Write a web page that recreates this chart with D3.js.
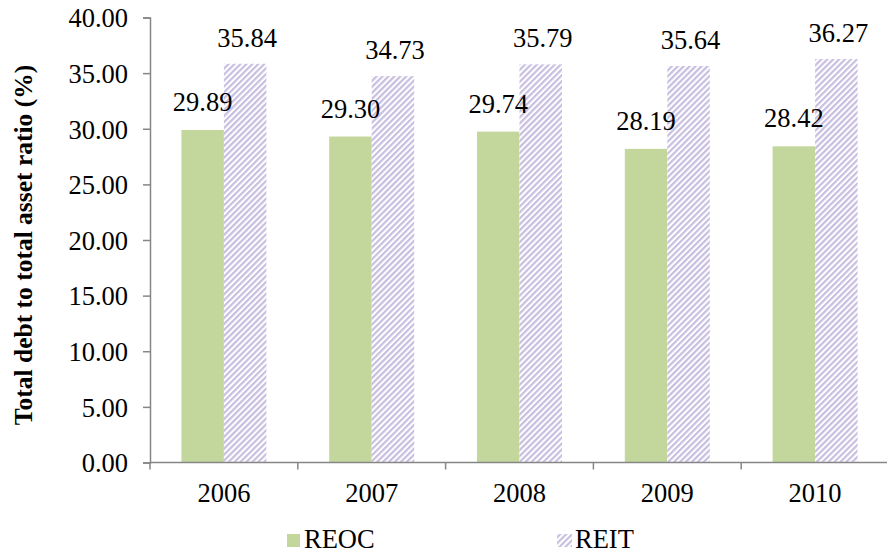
<!DOCTYPE html>
<html><head><meta charset="utf-8">
<script src="https://cdn.jsdelivr.net/npm/d3@7"></script>
<style>body{margin:0;background:#fff}svg{display:block}
svg text{font-family:"Liberation Serif","Times New Roman","DejaVu Serif",serif;}
</style>
</head><body>
<script>
const years = ["2006","2007","2008","2009","2010"];
const reoc = [29.89, 29.30, 29.74, 28.19, 28.42];
const reit = [35.84, 34.73, 35.79, 35.64, 36.27];
const yTicks = [0,5,10,15,20,25,30,35,40];
const seriesNames = ["REOC","REIT"];

const W=887,H=556;
const svg=d3.select("body").append("svg").attr("width",W).attr("height",H);
const defs=svg.append("defs");
const pat=defs.append("pattern").attr("id","stripe").attr("patternUnits","userSpaceOnUse")
  .attr("width",4.2).attr("height",4.2).attr("patternTransform","rotate(45)");
pat.append("rect").attr("width",4.2).attr("height",4.2).attr("fill","#fff");
pat.append("rect").attr("width",2.2).attr("height",4.2).attr("fill","#c8bfe0");

const x=d3.scaleBand().domain(years).range([150,889]).paddingInner(0).paddingOuter(0);
const y=d3.scaleLinear().domain([0,40]).range([462.5,17.5]);
const bw=42.5;
const FS=26.5;

// bars
const g=svg.append("g");
years.forEach((yr,i)=>{
  const cx=x(yr)+x.bandwidth()/2;
  g.append("rect").attr("x",cx-bw).attr("width",bw).attr("y",y(reoc[i])).attr("height",y(0)-y(reoc[i])).attr("fill","#c3d69b");
  g.append("rect").attr("x",cx).attr("width",bw).attr("y",y(reit[i])).attr("height",y(0)-y(reit[i])).attr("fill","url(#stripe)");
  g.append("text").attr("x",cx-bw/2).attr("y",y(reoc[i])-19).attr("text-anchor","middle")
    .attr("font-size",FS).text(reoc[i].toFixed(2));
  g.append("text").attr("x",cx+bw/2+2).attr("y",y(reit[i])-17).attr("text-anchor","middle")
    .attr("font-size",FS).text(reit[i].toFixed(2));
});

// y axis
const ya=svg.append("g").attr("transform","translate(150,0)")
  .call(d3.axisLeft(y).tickValues(yTicks).tickSize(7).tickPadding(15).tickFormat(d=>d.toFixed(2)));
ya.attr("font-family",null);
ya.select(".domain").attr("stroke","#868686").attr("stroke-width",1.5);
ya.selectAll(".tick line").attr("stroke","#868686").attr("stroke-width",1.5);
ya.selectAll(".tick text").attr("font-size",FS).attr("fill","#000").attr("dy","0.35em");

// x axis
const xa=svg.append("g").attr("transform","translate(0,462.5)");
xa.append("line").attr("x1",150).attr("x2",887).attr("stroke","#868686").attr("stroke-width",1.5);
years.forEach(yr=>{
  xa.append("line").attr("x1",x(yr)).attr("x2",x(yr)).attr("y1",0).attr("y2",7).attr("stroke","#868686").attr("stroke-width",1.5);
  xa.append("text").attr("x",x(yr)+x.bandwidth()/2).attr("y",39.5).attr("text-anchor","middle")
    .attr("font-size",FS).text(yr);
});

// y title
svg.append("text").attr("transform","translate(32,245) rotate(-90)").attr("text-anchor","middle")
  .attr("font-size",25.5).attr("font-weight","bold").text("Total debt to total asset ratio (%)");

// legend
const leg=svg.append("g");
leg.append("rect").attr("x",287).attr("y",534).attr("width",13).attr("height",13).attr("fill","#c3d69b");
leg.append("text").attr("x",304).attr("y",548).attr("font-size",FS).text(seriesNames[0]);
leg.append("rect").attr("x",557).attr("y",534).attr("width",15).attr("height",13).attr("fill","url(#stripe)");
leg.append("text").attr("x",575).attr("y",548).attr("font-size",FS).text(seriesNames[1]);
</script>
</body></html>
